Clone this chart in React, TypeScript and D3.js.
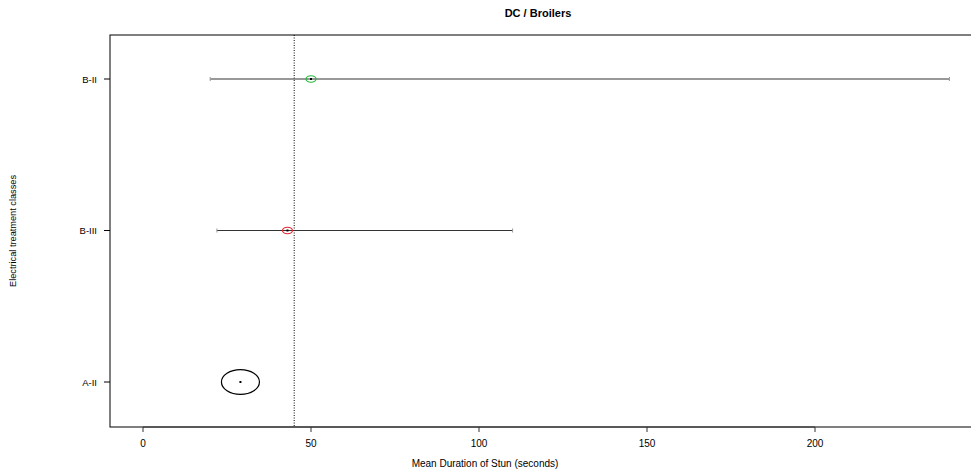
import React from "react";
import * as d3 from "d3";

const categories = ["A-II", "B-III", "B-II"];
const means = [29, 43, 50];
const lower = [null, 22, 20];
const upper = [null, 110, 240];
const weights = [16, 1.1, 1.1];
const colors = ["#000000", "#e8202a", "#22b83a"];
const xTicks = [0, 50, 100, 150, 200];
const refValue = 45;

const W = 971, H = 474;
const left = 110, top = 35, bottom = 427, right = 1010;

export default function App() {
  const x = d3.scaleLinear().domain([0, 200]).range([143, 815]);
  const y = d3.scalePoint<string>().domain(categories).range([382, 79]);
  const r = d3.scaleSqrt().domain([0, 16]).range([0, 19]);
  const font = "Liberation Sans, Arial, Helvetica, sans-serif";
  return (
    <svg width={W} height={H} style={{ position: "absolute", left: 0, top: 0 }} fontFamily={font}>
      <rect x={0} y={0} width={W} height={H} fill="#fff" />
      <text x={538} y={17} textAnchor="middle" fontSize={11} fontWeight="bold">DC / Broilers</text>
      <rect x={left} y={top} width={right - left} height={bottom - top} fill="none" stroke="#000" strokeWidth={1} />
      <line x1={x(refValue)} x2={x(refValue)} y1={top} y2={bottom} stroke="#000" strokeWidth={1} strokeDasharray="1,1.5" />
      {/* x axis */}
      <line x1={x(xTicks[0])} x2={x(xTicks[xTicks.length - 1])} y1={bottom} y2={bottom} stroke="#333" strokeWidth={1.2} />
      {xTicks.map((t) => (
        <g key={t}>
          <line x1={x(t)} x2={x(t)} y1={bottom} y2={bottom + 5} stroke="#333" />
          <text x={x(t)} y={447} textAnchor="middle" fontSize={10}>{t}</text>
        </g>
      ))}
      <text x={485} y={467} textAnchor="middle" fontSize={10}>Mean Duration of Stun (seconds)</text>
      {/* y axis */}
      {categories.map((c) => (
        <g key={c}>
          <line x1={left - 6} x2={left} y1={y(c)} y2={y(c)} stroke="#000" />
          <text x={97} y={(y(c) as number) + 3.5} textAnchor="end" fontSize={9.5}>{c}</text>
        </g>
      ))}
      <text transform={`translate(16,231) rotate(-90)`} textAnchor="middle" fontSize={8.5} textLength={112} lengthAdjust="spacingAndGlyphs">Electrical treatment classes</text>
      {/* error bars and points */}
      {categories.map((c, i) => {
        const cy = y(c) as number;
        const cx = x(means[i]);
        const rr = r(weights[i]);
        return (
          <g key={c}>
            {lower[i] != null && upper[i] != null && (
              <g stroke="#333" strokeWidth={1}>
                <line x1={x(lower[i] as number)} x2={x(upper[i] as number)} y1={cy} y2={cy} />
                <line x1={x(lower[i] as number)} x2={x(lower[i] as number)} y1={cy - 2} y2={cy + 2} stroke="#999" />
                <line x1={x(upper[i] as number)} x2={x(upper[i] as number)} y1={cy - 2} y2={cy + 2} stroke="#999" />
              </g>
            )}
            <ellipse cx={cx} cy={cy} rx={rr} ry={rr * 0.65} fill="none" stroke={colors[i]} strokeWidth={1.2} />
            <rect x={cx - 1} y={cy - 1} width={2} height={2} fill="#000" />
          </g>
        );
      })}
    </svg>
  );
}
